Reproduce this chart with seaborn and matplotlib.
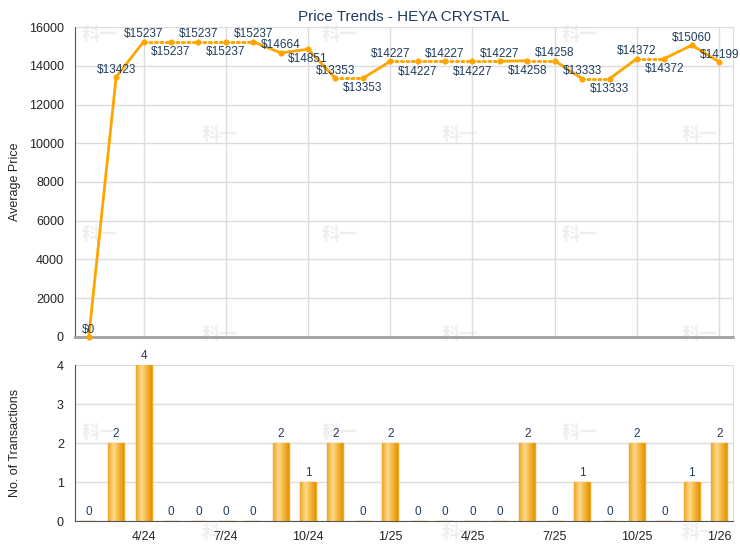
import numpy as np
import pandas as pd
import matplotlib
matplotlib.use("Agg")
import matplotlib.pyplot as plt
from matplotlib.colors import LinearSegmentedColormap
import seaborn as sns

# Monthly data, 2/24 .. 1/26
months = ["2/24", "3/24", "4/24", "5/24", "6/24", "7/24", "8/24", "9/24", "10/24",
          "11/24", "12/24", "1/25", "2/25", "3/25", "4/25", "5/25", "6/25", "7/25",
          "8/25", "9/25", "10/25", "11/25", "12/25", "1/26"]
avg_price = [0, 13423, 15237, 15237, 15237, 15237, 15237, 14664, 14851, 13353,
             13353, 14227, 14227, 14227, 14227, 14227, 14258, 14258, 13333, 13333,
             14372, 14372, 15060, 14199]
transactions = [0, 2, 4, 0, 0, 0, 0, 2, 1, 2, 0, 2, 0, 0, 0, 0, 2, 0, 1, 0, 2, 0, 1, 2]
tick_months = ["4/24", "7/24", "10/24", "1/25", "4/25", "7/25", "10/25", "1/26"]

df = pd.DataFrame({"month": months, "price": avg_price, "tx": transactions})
df["idx"] = np.arange(len(df))

# label above (True) or below (False) the point
label_above = [True, True, True, False, True, False, True, True, False, True, False, True,
               False, True, False, True, False, True, True, False, True, False, True, True]

sns.set_style("white")
plt.rcParams["font.family"] = ["Liberation Sans", "DejaVu Sans"]

ORANGE = "#FFA500"
NAVY = "#1F3D5F"
GRID = "#DCDCDC"

fig = plt.figure(figsize=(7.4, 5.5), dpi=100)
ax1 = fig.add_axes([0.1014, 0.3873, 0.889, 0.5636])
ax2 = fig.add_axes([0.1014, 0.0527, 0.889, 0.2836])

tick_pos = [months.index(m) for m in tick_months]

# faint watermark behind the plots
for r, y in enumerate([35, 135, 235, 335, 433, 533]):
    xs = [100, 340, 580] if r % 2 == 0 else [220, 460, 700]
    for x in xs:
        fig.text(x / 740, 1 - y / 550, "科一", fontsize=13, fontweight="bold",
                 color="#EEEEEE", ha="center", va="center",
                 family=["Noto Sans CJK SC", "DejaVu Sans"], zorder=-5)

for ax in (ax1, ax2):
    ax.set_zorder(1)
    ax.patch.set_alpha(0)
    ax.set_xlim(-0.5, 23.5)
    ax.set_xticks(tick_pos)
    ax.grid(True, color=GRID, linewidth=1)
    ax.set_axisbelow(True)
    ax.spines["top"].set_visible(False)
    ax.spines["right"].set_color(GRID)
    ax.spines["left"].set_color("#555555")
    ax.tick_params(axis="y", length=0, labelsize=9, colors="#222222", pad=8)

# ---- price panel ----
for i in range(len(df) - 1):
    seg = df.iloc[i:i + 2]
    solid = transactions[i + 1] > 0
    sns.lineplot(data=seg, x="idx", y="price", ax=ax1, color=ORANGE,
                 linewidth=2 if solid else 2.2,
                 linestyle="-" if solid else (0, (0.6, 1.2)),
                 dash_capstyle="round", solid_capstyle="round", zorder=3)
sns.scatterplot(data=df, x="idx", y="price", ax=ax1, color=ORANGE, s=16,
                edgecolor=ORANGE, zorder=4, clip_on=False)
for i, (p, up) in enumerate(zip(avg_price, label_above)):
    ax1.annotate(f"${p}", (i, p), xytext=(0, 1 if up else -3), textcoords="offset points",
                 ha="center", va="bottom" if up else "top", fontsize=8.5, color=NAVY,
                 zorder=5)
ax1.set_ylim(0, 16000)
ax1.set_yticks(range(0, 16001, 2000))
ax1.set_xticklabels([])
ax1.tick_params(axis="x", length=0)
ax1.spines["bottom"].set_color("#A0A0A0")
ax1.spines["bottom"].set_linewidth(2)
ax1.set_xlabel("")
ax1.set_ylabel("Average Price", fontsize=9, color="#222222")
ax1.set_title("Price Trends - HEYA CRYSTAL", fontsize=11, color=NAVY, pad=4)

# ---- transactions panel ----
sns.barplot(data=df, x="month", y="tx", ax=ax2, color="#F5B335", width=0.58,
            edgecolor="#F2A81E", linewidth=1, zorder=2)
cmap = LinearSegmentedColormap.from_list(
    "bar", [(0, "#F0A623"), (0.35, "#FFD98C"), (0.75, "#F2AE2E"), (1, "#E39300")])
grad = np.linspace(0, 1, 64).reshape(1, -1)
for patch in list(ax2.patches):
    h = patch.get_height()
    if h <= 0:
        continue
    x0, w = patch.get_x(), patch.get_width()
    im = ax2.imshow(grad, cmap=cmap, extent=[x0, x0 + w, 0, h], aspect="auto",
                    zorder=2.5, interpolation="bilinear")
    im.set_clip_path(patch)
ax2.bar_label(ax2.containers[0], fontsize=8.5, color=NAVY, padding=2)
ax2.set_xlim(-0.5, 23.5)
ax2.set_ylim(0, 4)
ax2.set_yticks(range(0, 5))
ax2.set_xticks(tick_pos)
ax2.set_xticklabels(tick_months)
ax2.tick_params(axis="x", length=4, color="#555555", labelsize=9, colors="#222222")
ax2.spines["bottom"].set_color("#555555")
ax2.set_xlabel("")
ax2.set_ylabel("No. of Transactions", fontsize=9, color="#222222")

ax1.yaxis.set_label_coords(-0.082, 0.5)
ax2.yaxis.set_label_coords(-0.082, 0.5)

fig.savefig("out.png", dpi=100)
